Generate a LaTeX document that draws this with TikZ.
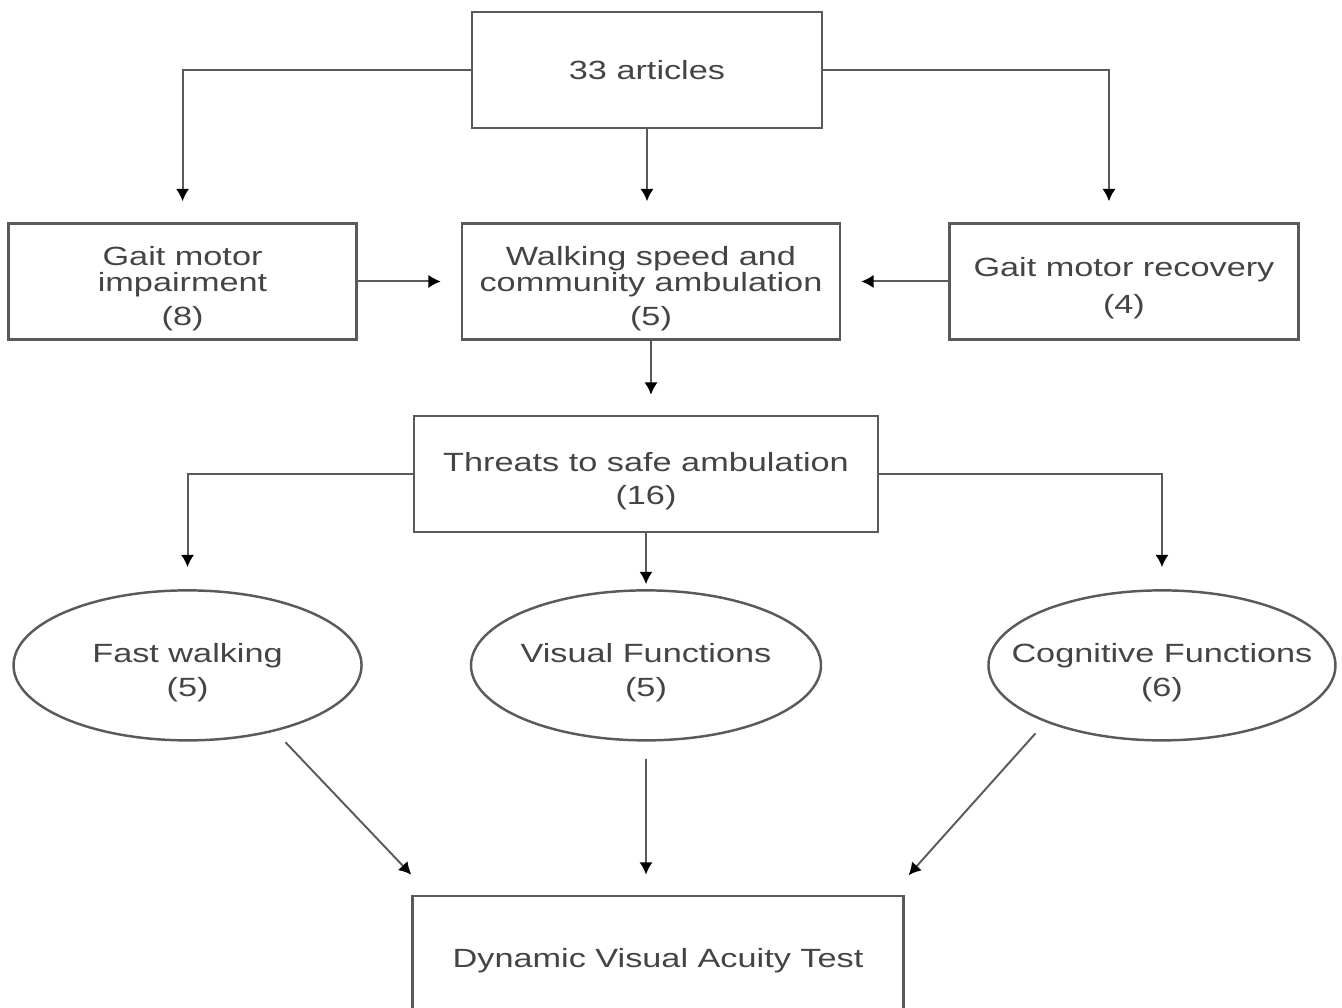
\documentclass[tikz,border=0pt]{standalone}
\usepackage{fontspec}
\setmainfont{Liberation Sans}[FakeStretch=1.3]
\usetikzlibrary{positioning, calc, shapes.geometric, arrows.meta}
\definecolor{linegray}{HTML}{5A5A5A}
\definecolor{textgray}{HTML}{444444}
\newcommand{\lowstrut}{\rule{0pt}{19pt}}
\tikzstyle{Box} = [
draw=linegray, line width=1.4pt,
text=textgray, align=center,
minimum width=7cm, minimum height=2.32cm, inner sep=0pt,
font=\fontsize{15}{15}\selectfont]
\tikzstyle{Oval} = [Box, ellipse, inner xsep=-0.7cm, minimum height=3cm]
\tikzstyle{Arrow} = [
draw=linegray, line width=1.1pt,
-{Latex[color=black, length=7pt, width=7.5pt]}]

\begin{document}
\begin{tikzpicture}
    \useasboundingbox (0,0) rectangle (26.84,-20.16);
    \node [Box] (1) at (12.94,-1.4) {33 articles};
    \node [Box, minimum width=7.56cm, below =1.86cm of 1, xshift=0.08cm] (2)
        {\lowstrut Walking speed and\\community ambulation\\[4pt](5)};
    \node [Box, minimum width=6.96cm, left =2.06cm of 2] (3)
        {\lowstrut Gait motor\\impairment\\[4pt](8)};
    \node [Box, minimum width=6.98cm, right =2.14cm of 2] (4)
        {\lowstrut Gait motor recovery\\[6pt](4)};
    \node [Box, minimum width=9.28cm, below =1.48cm of 2, xshift=-0.1cm] (5)
        {\lowstrut Threats to safe ambulation\\[4pt](16)};
    \node [Oval, below =1.12cm of 5] (7) {\lowstrut Visual Functions\\[4pt](5)};
    \node [Oval, minimum width=6.96cm, left =2.14cm of 7] (6) {\lowstrut Fast walking\\[4pt](5)};
    \node [Oval, minimum width=6.94cm, right =3.3cm of 7] (8) {\lowstrut Cognitive Functions\\[4pt](6)};
    \node [Box, minimum width=9.82cm, below =3.06cm of 7, xshift=0.24cm] (9)
        {\lowstrut Dynamic Visual Acuity Test};
    % first level
    \draw[Arrow, shorten >=0.42cm] (1.west) -| (3.north);
    \draw[Arrow, shorten >=0.42cm] (1.south) -- (1.south |- 2.north);
    \draw[Arrow, shorten >=0.42cm] (1.east) -| ([xshift=-0.3cm]4.north);
    \draw[Arrow, shorten >=0.4cm] (3.east) -- (2.west);
    \draw[Arrow, shorten >=0.4cm] (4.west) -- (2.east);
    \draw[Arrow, shorten >=0.4cm] (2.south) -- (2.south |- 5.north);
    % threats
    \draw[Arrow, shorten >=0.44cm] (5.west) -| (6.north);
    \draw[Arrow, shorten >=0.1cm] (5.south) -- (5.south |- 7.north);
    \draw[Arrow, shorten >=0.44cm] (5.east) -| (8.north);
    % to the test
    \draw[Arrow, shorten <=0.3cm, shorten >=0.55cm] (6.-37) -- ([xshift=0.38cm]9.north west);
    \draw[Arrow, shorten <=0.34cm, shorten >=0.4cm] (7.south) -- (7.south |- 9.north);
    \draw[Arrow, shorten <=0.3cm, shorten >=0.52cm] (8.-154) -- ([xshift=-0.27cm]9.north east);
\end{tikzpicture}
\end{document}
